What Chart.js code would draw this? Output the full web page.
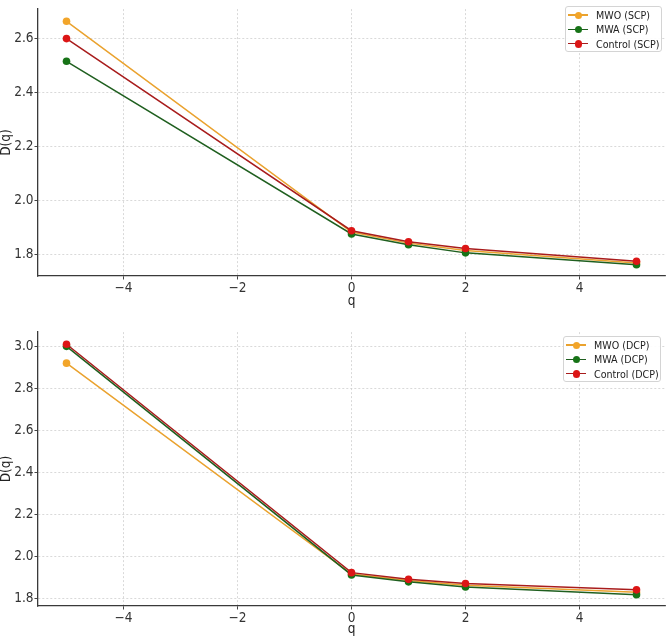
<!DOCTYPE html>
<html><head><meta charset="utf-8">
<script src="https://cdn.jsdelivr.net/npm/chart.js@4/dist/chart.umd.min.js"></script>
<style>
html,body{margin:0;padding:0;background:#fff;width:669px;height:638px;overflow:hidden;position:relative;}
.wrap{position:absolute;left:0;width:669px;}
.legend{position:absolute;background:rgba(255,255,255,0.9);border:1px solid #d4d4d4;border-radius:3px;
  font-family:'DejaVu Sans Condensed','Liberation Sans',sans-serif;font-size:10.6px;color:#222;box-sizing:border-box;padding:1px 0 0 2px;}
.row{height:14.3px;display:flex;align-items:center;white-space:nowrap;}
.mk{position:relative;width:20px;height:8px;margin-right:8px;}
.mk .ln{position:absolute;left:0;right:0;top:3.25px;height:1.5px;}
.mk .dt{position:absolute;left:6.5px;top:0.5px;width:7.4px;height:7.4px;border-radius:50%;}
</style></head>
<body>
<div class="wrap" style="top:0;height:310px;"><canvas id="c1" width="669" height="310"></canvas></div>
<div class="legend" id="lg1" style="left:565px;top:6px;width:97px;height:46px;"></div>
<div class="wrap" style="top:323px;height:315px;"><canvas id="c2" width="669" height="315"></canvas></div>
<div class="legend" id="lg2" style="left:563px;top:336px;width:98px;height:46px;"></div>
<script>
// ---- data ----
const qValues = [-5, 0, 1, 2, 5];
const scpMWO = [2.663, 1.884, 1.843, 1.816, 1.770];
const scpMWA = [2.515, 1.877, 1.837, 1.807, 1.763];
const scpControl = [2.599, 1.889, 1.848, 1.823, 1.776];
const dcpMWO = [2.920, 1.915, 1.884, 1.862, 1.829];
const dcpMWA = [3.000, 1.911, 1.878, 1.854, 1.817];
const dcpControl = [3.010, 1.922, 1.890, 1.870, 1.840];
const xTicks = [-4, -2, 0, 2, 4];
const yTicksTop = [1.8, 2.0, 2.2, 2.4, 2.6];
const yTicksBottom = [1.8, 2.0, 2.2, 2.4, 2.6, 2.8, 3.0];
const seriesNamesTop = ['MWO (SCP)', 'MWA (SCP)', 'Control (SCP)'];
const seriesNamesBottom = ['MWO (DCP)', 'MWA (DCP)', 'Control (DCP)'];

const lineColors = ['#eaa22e', '#1f5f1f', '#a81c1c'];
const markerColors = ['#f2a52a', '#177317', '#dc1616'];
const FONT = "'DejaVu Sans Condensed','Liberation Sans',sans-serif";

function makeDatasets(names, seriesList) {
  return seriesList.map((vals, i) => ({
    label: names[i],
    data: qValues.map((q, k) => ({x: q, y: vals[k]})),
    borderColor: lineColors[i],
    backgroundColor: markerColors[i],
    pointBackgroundColor: markerColors[i],
    pointBorderColor: markerColors[i],
    pointBorderWidth: 0,
    pointRadius: 3.8,
    borderWidth: 1.5,
    tension: 0,
    order: 2 - i
  }));
}

function makeChart(id, names, seriesList, yTicks, yMin, yMax, padTop, xAxisH) {
  const axisCommon = {
    border: {display: true, color: '#3a3a3a', width: 1.3, dash: [2, 2]},
    grid: {color: '#c9c9c9', lineWidth: 0.7, tickLength: 3.5, tickColor: '#444', tickWidth: 1},
    ticks: {color: '#333', font: {family: FONT, size: 13.5}},
    title: {display: true, color: '#222', font: {family: FONT, size: 13.5, lineHeight: 1}}
  };
  return new Chart(document.getElementById(id), {
    type: 'line',
    data: {datasets: makeDatasets(names, seriesList)},
    options: {
      responsive: false,
      devicePixelRatio: 1,
      animation: false,
      layout: {padding: {top: padTop, right: 2, left: 0, bottom: 0}},
      plugins: {legend: {display: false}, tooltip: {enabled: false}},
      scales: {
        x: {
          type: 'linear', min: -5.5, max: 5.5,
          border: axisCommon.border, grid: axisCommon.grid,
          ticks: Object.assign({}, axisCommon.ticks, {padding: 1, maxRotation: 0,
            callback: v => (v < 0 ? '\u2212' + Math.abs(v) : String(v))}),
          title: Object.assign({}, axisCommon.title, {text: 'q', padding: {top: 0, bottom: 2}}),
          afterBuildTicks: s => { s.ticks = xTicks.map(v => ({value: v})); },
          afterFit: s => { s.height = xAxisH; }
        },
        y: {
          type: 'linear', min: yMin, max: yMax,
          border: axisCommon.border, grid: axisCommon.grid,
          ticks: Object.assign({}, axisCommon.ticks, {padding: 1, callback: v => v.toFixed(1)}),
          title: Object.assign({}, axisCommon.title, {text: 'D(q)', padding: {top: 0, bottom: 0}}),
          afterBuildTicks: s => { s.ticks = yTicks.map(v => ({value: v})); },
          afterFit: s => { s.width = 38; }
        }
      }
    }
  });
}

function makeLegend(id, names) {
  const el = document.getElementById(id);
  names.forEach((n, i) => {
    const r = document.createElement('div');
    r.className = 'row';
    r.innerHTML = '<span class="mk"><span class="ln" style="background:' + lineColors[i] + '"></span><span class="dt" style="background:' + markerColors[i] + '"></span></span><span></span>';
    r.lastChild.textContent = n;
    el.appendChild(r);
  });
}

makeChart('c1', seriesNamesTop, [scpMWO, scpMWA, scpControl], yTicksTop, 1.7215, 2.708, 0, 34);
makeChart('c2', seriesNamesBottom, [dcpMWO, dcpMWA, dcpControl], yTicksBottom, 1.763, 3.068, 9, 32);
makeLegend('lg1', seriesNamesTop);
makeLegend('lg2', seriesNamesBottom);
</script>
</body></html>
